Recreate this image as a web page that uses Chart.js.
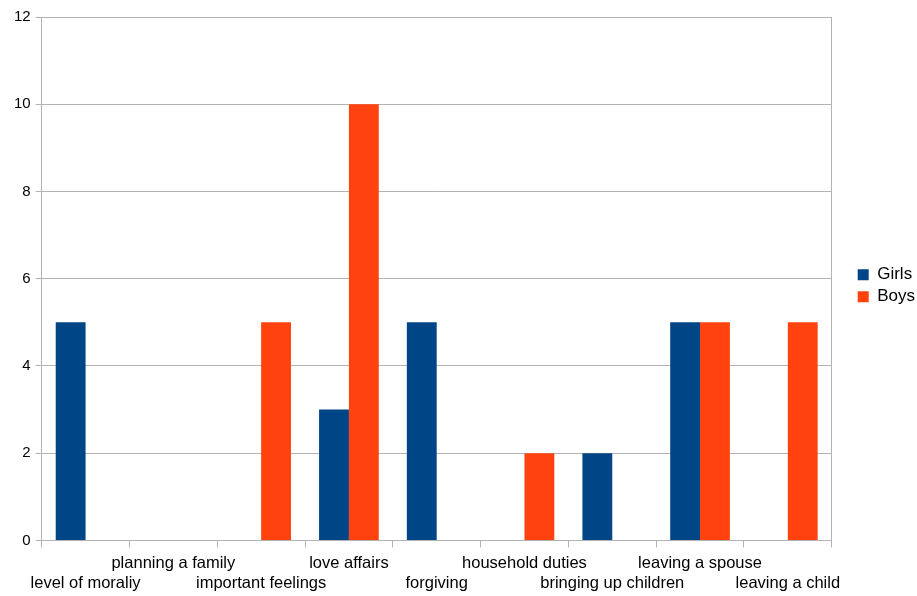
<!DOCTYPE html>
<html>
<head>
<meta charset="utf-8">
<script src="https://cdn.jsdelivr.net/npm/chart.js@4/dist/chart.umd.min.js"></script>
<style>
  html, body { margin: 0; padding: 0; background: #fff; }
  #wrap { width: 917px; height: 596px; }
</style>
</head>
<body>
<div id="wrap"><canvas id="chart"></canvas></div>
<script>
  /* ---- data ---- */
  const categories = [
    "level of moraliy", "planning a family", "important feelings", "love affairs",
    "forgiving", "household duties", "bringing up children", "leaving a spouse",
    "leaving a child"
  ];
  const girls = [5, 0, 0, 3, 5, 0, 2, 5, 0];
  const boys  = [0, 0, 5, 10, 0, 2, 0, 5, 5];
  const yMax  = 12;
  const yStep = 2;

  const GRID = "#b3b3b3";

  Chart.defaults.font.family = "'Liberation Sans', Arial, sans-serif";
  Chart.defaults.font.size = 16;
  Chart.defaults.color = "#000";

  new Chart(document.getElementById("chart"), {
    type: "bar",
    data: {
      labels: categories,
      datasets: [
        { label: "Girls", data: girls, backgroundColor: "#004586",
          categoryPercentage: 0.68, barPercentage: 1.0 },
        { label: "Boys", data: boys, backgroundColor: "#ff420e",
          categoryPercentage: 0.68, barPercentage: 1.0 }
      ]
    },
    options: {
      responsive: true,
      maintainAspectRatio: false,
      animation: false,
      layout: { padding: { left: 9, top: 17, right: -8, bottom: -3 } },
      plugins: {
        tooltip: { enabled: false },
        legend: {
          position: "right",
          fullSize: false,
          // blank title only nudges the entries down a little
          title: { display: true, text: " ", font: { size: 10 }, padding: { top: 2, bottom: 0 } },
          labels: { boxWidth: 11, boxHeight: 11, padding: 5, font: { size: 17 } }
        }
      },
      scales: {
        x: {
          grid: { color: GRID, drawOnChartArea: false, tickLength: 7, offset: true },
          border: { color: GRID },
          ticks: {
            autoSkip: false, maxRotation: 0, minRotation: 0, padding: 6,
            font: { size: 16.5 },
            callback: (v, i) => i % 2 === 0 ? ["", categories[i]] : [categories[i]]
          }
        },
        y: {
          min: 0, max: yMax,
          grid: { color: GRID, tickLength: 6 },
          border: { color: GRID },
          ticks: { stepSize: yStep, padding: 5, font: { size: 15 } }
        },
        // empty right axis: gives the plot its right frame line and the gap before the legend
        y2: {
          position: "right",
          min: 0, max: yMax,
          grid: { display: false },
          ticks: { display: false },
          border: { display: true, color: GRID },
          afterFit(scale) { scale.width = 21; }
        }
      }
    }
  });
</script>
</body>
</html>
